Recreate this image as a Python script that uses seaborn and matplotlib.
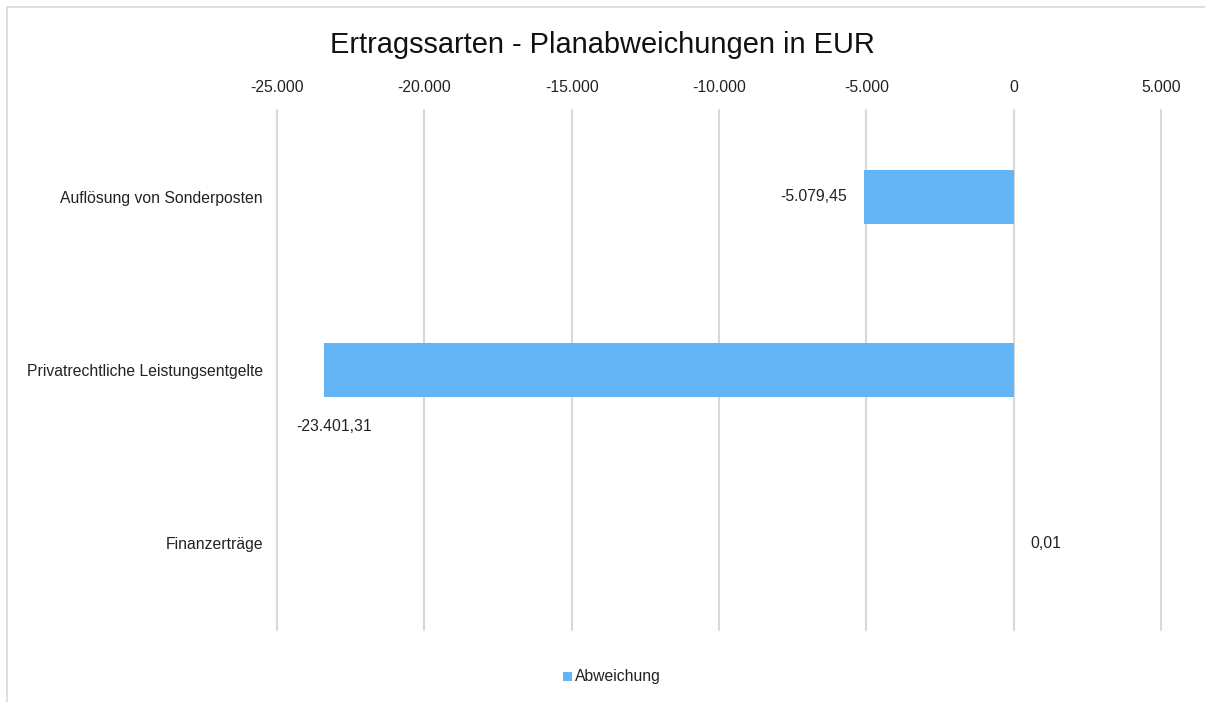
import matplotlib
matplotlib.use("Agg")
import matplotlib.pyplot as plt
import seaborn as sns
import pandas as pd
from matplotlib.patches import Rectangle

categories = ["Auflösung von Sonderposten", "Privatrechtliche Leistungsentgelte", "Finanzerträge"]
values = [-5079.45, -23401.31, 0.01]
series_name = "Abweichung"
title = "Ertragssarten - Planabweichungen in EUR"
xticks = [-25000, -20000, -15000, -10000, -5000, 0, 5000]

def de_fmt(v, dec=0):
    s = f"{v:,.{dec}f}"
    return s.replace(",", "X").replace(".", ",").replace("X", ".")

sns.set_theme(style="white")
plt.rcParams['font.family'] = ['Liberation Sans', 'DejaVu Sans']

df = pd.DataFrame({"Kategorie": categories, "Wert": values, "Serie": series_name})

fig = plt.figure(figsize=(12.05, 7.02), dpi=100)
W, H = 1205, 702
ax = fig.add_axes([277 / W, 1 - 630 / H, (1161 - 277) / W, (630 - 110) / H])

color = "#64B5F6"
fs = 11.3
sns.barplot(data=df, x="Wert", y="Kategorie", hue="Serie", orient="h",
            palette=[color], width=0.31, ax=ax, legend=False, saturation=1,
            linewidth=0, edgecolor="none")

ax.set_xlim(-25000, 5000)
ax.set_ylim(2.5, -0.5)
ax.set_xticks(xticks)
ax.set_xticklabels([de_fmt(t) for t in xticks], fontsize=fs, color="#222222")
ax.xaxis.tick_top()
ax.tick_params(axis="x", length=0, pad=11)
ax.tick_params(axis="y", length=0, pad=10, labelsize=fs, labelcolor="#222222")
ax.set_xlabel("")
ax.set_ylabel("")
ax.grid(axis="x", color="#D9D9D9", linewidth=1.5)
for gl in ax.get_xgridlines():
    gl.set_clip_on(False)
ax.set_axisbelow(True)
for s in ax.spines.values():
    s.set_visible(False)

# data labels
label_pos = [(-5079.45, 0, -12, 0, "right"),
             (-23401.31, 1, -20, -41, "left"),
             (0.01, 2, 12, 0, "left")]
for (val, yi, dx, dy, ha) in label_pos:
    ax.annotate(de_fmt(val, 2), xy=(val, yi), xytext=(dx, dy), textcoords="offset points",
                ha=ha, va="center", fontsize=fs, color="#222222")

fig.text(0.5, 1 - 45 / H, title, ha="center", va="center", fontsize=20.9, color="#111111")

# legend
fig.patches.append(Rectangle((563 / W, 1 - 681 / H), 9 / W, 9 / H, transform=fig.transFigure,
                             facecolor=color, edgecolor="none"))
fig.text(575 / W, 1 - 676 / H, series_name, ha="left", va="center", fontsize=fs, color="#222222")

# outer chart border (left and top visible)
fig.patches.append(Rectangle((7 / W, -0.1), 1.2, 1 - 7 / H + 0.1, transform=fig.transFigure,
                             facecolor="none", edgecolor="#D9D9D9", linewidth=1.2))

fig.savefig("out.png", dpi=100)
